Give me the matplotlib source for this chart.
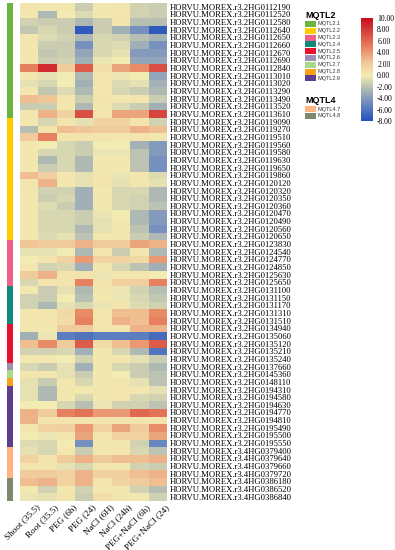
import numpy as np
import matplotlib
matplotlib.use("Agg")
import matplotlib.pyplot as plt
import matplotlib.transforms as mtransforms
from matplotlib.colors import LinearSegmentedColormap, Normalize
from matplotlib.patches import Rectangle

conditions = ["Shoot (35.5)", "Root (35.5)", "PEG (6h)", "PEG (24)", "NaCl (6H)",
              "NaCl (24h)", "PEG+NaCl (6h)", "PEG+NaCl (24)"]

gene_ids = ["2HG0112190", "2HG0112520", "2HG0112580", "2HG0112640", "2HG0112650",
            "2HG0112660", "2HG0112670", "2HG0112690", "2HG0112840", "2HG0113010",
            "2HG0113020", "2HG0113290", "2HG0113490", "2HG0113520", "2HG0113610",
            "2HG0119090", "2HG0119270", "2HG0119510", "2HG0119560", "2HG0119580",
            "2HG0119630", "2HG0119650", "2HG0119860", "2HG0120120", "2HG0120320",
            "2HG0120350", "2HG0120360", "2HG0120470", "2HG0120490", "2HG0120560",
            "2HG0120650", "2HG0123830", "2HG0124540", "2HG0124770", "2HG0124850",
            "2HG0125630", "2HG0125650", "2HG0131100", "2HG0131150", "2HG0131170",
            "2HG0131310", "2HG0131510", "2HG0134940", "2HG0135060", "2HG0135120",
            "2HG0135210", "2HG0135240", "2HG0137660", "2HG0145360", "2HG0148110",
            "2HG0194310", "2HG0194580", "2HG0194630", "2HG0194770", "2HG0194810",
            "2HG0195490", "2HG0195500", "2HG0195550", "4HG0379400", "4HG0379640",
            "4HG0379660", "4HG0379720", "4HG0386180", "4HG0386520", "4HG0386840"]
genes = ["HORVU.MOREX.r3." + g for g in gene_ids]

values = [
    [0.3, 0.2, 0.2, -1.5, 0.2, 0.3, -1.2, -1.5],
    [0.2, -2.5, 0.1, -0.8, 0.2, 0.3, -1.2, -1.5],
    [-1.2, -1.5, -1.5, -2.5, -1.5, 0.5, -2.2, -2.2],
    [-1.8, -1.0, -1.5, -7.5, -1.5, -3.0, -4.5, -7.5],
    [0.3, -0.8, -1.2, -2.5, -1.0, -1.2, -2.2, -2.8],
    [0.3, -1.5, -1.5, -4.5, -1.0, -0.8, -3.0, -4.5],
    [0.2, -1.8, -1.5, -3.5, -1.0, -0.5, -4.0, -4.0],
    [0.2, -1.5, -1.2, -3.0, -0.3, 0.0, -3.5, -3.5],
    [5.0, 8.5, 2.0, 6.5, 0.8, 3.5, 4.5, 7.0],
    [0.2, -0.5, 0.0, -2.5, 0.3, -0.3, 0.0, -3.5],
    [-0.5, -1.0, 0.0, -3.0, 0.3, -0.8, -0.5, -2.8],
    [0.2, -1.8, -0.8, -2.5, 0.3, -1.0, -1.5, -2.5],
    [2.5, 2.2, 0.3, -1.5, 0.5, 0.2, 0.3, -1.5],
    [-1.5, -1.5, 0.2, -2.5, 0.2, -0.8, -1.5, -3.0],
    [0.3, 3.0, 1.5, 7.0, 0.5, 3.5, 3.5, 7.5],
    [0.2, -1.0, 0.5, -0.5, 1.5, 1.5, 0.5, -1.2],
    [-2.2, 0.3, 2.5, 2.2, 2.0, 2.0, 3.0, 2.5],
    [2.0, 5.0, 0.5, 0.5, 0.5, 0.3, 0.5, 0.3],
    [0.2, 0.0, -1.0, -1.5, 0.0, 0.0, -2.8, -4.0],
    [0.2, -1.0, -1.0, -1.5, -0.3, -0.3, -2.0, -4.0],
    [0.2, -2.5, -1.0, -2.5, 0.2, 0.2, -2.0, -4.5],
    [0.2, -1.5, -1.0, -2.5, 0.2, 0.2, -2.0, -4.5],
    [2.5, 1.8, 0.3, -0.5, 0.3, -0.3, 0.3, -0.8],
    [0.3, 3.0, 0.3, -0.5, 0.5, -0.5, 0.3, -0.5],
    [0.2, -1.2, -1.2, -3.0, 0.2, -1.0, -1.0, -2.5],
    [0.2, -1.5, -1.0, -3.0, 0.2, -1.0, -1.2, -2.5],
    [0.2, -0.8, -1.5, -3.0, 0.2, -1.0, -1.2, -2.0],
    [0.2, -1.0, -1.0, -1.5, -0.3, 0.0, -2.5, -4.0],
    [0.2, -1.0, -1.0, -1.5, -0.5, 0.2, -2.5, -4.0],
    [0.2, -1.0, -1.0, -2.5, -0.5, 0.2, -2.0, -4.5],
    [0.2, -0.8, -0.5, -2.0, 0.2, 0.3, -1.5, -2.5],
    [2.2, 2.0, 2.0, 3.0, 2.0, 2.0, 3.5, 3.0],
    [-0.5, -0.5, 0.0, -2.5, 0.3, -1.5, 0.3, -2.5],
    [0.0, 0.5, 1.5, 4.0, 1.5, 1.5, 1.2, 4.0],
    [0.3, -1.2, -1.0, -3.0, 0.2, -1.0, -2.0, -3.0],
    [2.0, 3.0, 0.5, 0.5, -0.3, 0.3, 0.3, 0.0],
    [-1.0, 0.3, 0.5, 5.0, 0.5, 1.8, 1.8, 5.0],
    [0.2, -1.5, -0.5, -2.5, 0.3, -0.3, -1.2, -2.2],
    [-1.2, -1.5, 0.0, -2.2, 0.2, -0.3, -1.0, -1.8],
    [-1.2, -2.5, -0.5, -1.0, -0.3, 0.3, -0.8, -1.2],
    [0.3, 0.3, 1.2, 4.5, 0.3, 2.5, 2.5, 4.5],
    [0.3, 0.3, 1.0, 5.0, 0.3, 3.0, 2.5, 5.0],
    [0.2, 0.2, 2.0, 2.0, 0.5, 0.5, 3.0, 3.0],
    [-3.0, -0.3, -5.5, -6.0, -5.5, -5.5, -5.5, -6.5],
    [2.5, 4.5, 2.0, 6.5, 1.0, 2.5, 4.0, 6.5],
    [-1.2, -1.2, -1.0, -3.0, 0.2, -1.0, -2.5, -6.0],
    [0.2, 0.2, 0.0, -1.2, 0.2, 0.3, -0.5, -1.5],
    [-1.0, -1.5, -0.5, -3.0, 0.2, -1.0, -1.5, -2.5],
    [0.3, 0.3, -0.5, -1.5, 0.2, 0.0, -1.5, -2.0],
    [-0.5, -1.5, 0.2, -1.0, 0.2, 0.3, -0.5, -2.0],
    [-0.5, -2.5, 0.3, 0.2, 0.3, 0.3, 0.2, -0.5],
    [-0.5, -2.5, 0.2, -1.0, 0.2, 0.3, -1.0, -1.2],
    [0.0, 0.0, -1.0, -2.2, -0.3, -1.2, -1.2, -2.0],
    [3.0, 2.0, 5.0, 5.5, 4.0, 4.0, 6.0, 5.5],
    [3.0, 0.5, 0.5, 0.5, 0.5, 0.5, 0.5, 0.5],
    [0.3, 1.5, 1.8, 4.0, 1.5, 3.5, 2.0, 4.5],
    [0.0, -0.3, 0.3, 3.5, 0.3, 1.5, 1.5, 3.5],
    [-0.8, -1.0, 0.0, -4.5, 0.3, 0.2, -1.2, -5.0],
    [-0.5, -1.0, 0.2, -1.5, 0.2, 0.3, -1.0, -2.0],
    [1.5, 0.5, 2.0, 3.0, 2.0, 2.5, 2.5, 3.0],
    [0.3, 0.3, -0.5, -1.0, 0.3, 0.2, -1.2, -1.5],
    [2.0, 2.0, 1.5, 3.0, 1.5, 1.8, 2.5, 3.0],
    [2.5, 3.0, 1.5, 3.0, 0.5, 1.5, 2.0, 2.5],
    [0.2, -1.2, 0.2, -1.2, 0.2, 0.2, -1.2, -2.2],
    [-0.3, -0.5, 0.3, -1.5, 0.8, 0.3, 0.2, -1.2],
]

mqtl_names = ["MQTL2.1", "MQTL2.2", "MQTL2.3", "MQTL2.4", "MQTL2.5", "MQTL2.6",
              "MQTL2.7", "MQTL2.8", "MQTL2.9", "MQTL4.7", "MQTL4.8"]
mqtl_sizes = [15, 16, 6, 5, 5, 1, 1, 1, 8, 4, 3]
mqtl_colors = ["#6DB33F", "#FFCC00", "#EE5F8A", "#0E8A7D", "#E8112D", "#9A8FB5",
               "#A8D98A", "#F7A11A", "#5B3E8E", "#FFB482", "#7A8A6A"]

cbar_ticks = [10, 8, 6, 4, 2, 0, -2, -4, -6, -8]

vmin, vmax = -8, 10
nodes = [(-8, "#2450BA"), (-5, "#6A88C0"), (-2, "#BDC3B2"), (0, "#F3ECB2"),
         (2, "#F1CC9C"), (5, "#E7805E"), (10, "#C80A1E")]
cmap = LinearSegmentedColormap.from_list(
    "expr", [((v - vmin) / (vmax - vmin), c) for v, c in nodes])
norm = Normalize(vmin, vmax)

W, H = 395, 550
fig = plt.figure(figsize=(W / 100, H / 100), dpi=100)

def box(x0, y0, x1, y1):
    return [x0 / W, 1 - y1 / H, (x1 - x0) / W, (y1 - y0) / H]

serif = "Liberation Serif"

# heatmap
ax = fig.add_axes(box(20, 3, 167, 500.5))
data = np.array(values)
ax.imshow(data, cmap=cmap, norm=norm, aspect="auto", interpolation="nearest")
ax.set_yticks(range(len(genes)))
ax.set_yticklabels(genes, fontsize=6.25, family=serif)
ax.yaxis.tick_right()
ax.set_xticks(range(len(conditions)))
ax.set_xticklabels(conditions, fontsize=6.6, family=serif, rotation=45,
                   ha="right", rotation_mode="anchor")
ax.tick_params(length=0, pad=2)
shift = mtransforms.ScaledTranslation(7 / 100, 0, fig.dpi_scale_trans)
for lab in ax.get_xticklabels():
    lab.set_transform(lab.get_transform() + shift)
for s in ax.spines.values():
    s.set_visible(False)

# group bar
gax = fig.add_axes(box(7, 3, 13, 500.5))
start = 0
for n, c in zip(mqtl_sizes, mqtl_colors):
    gax.add_patch(Rectangle((0, start), 1, n, color=c, lw=0))
    start += n
gax.set_xlim(0, 1)
gax.set_ylim(len(genes), 0)
gax.axis("off")

# legend
fig.text(305 / W, 1 - 15 / H, "MQTL2", fontsize=6.5, weight="bold", va="center",
         family="Liberation Sans")
fig.text(305 / W, 1 - 100 / H, "MQTL4", fontsize=6.5, weight="bold", va="center",
         family="Liberation Sans")
for i, (name, c) in enumerate(zip(mqtl_names, mqtl_colors)):
    if i < 9:
        yc = 24 + i * 6.8
    else:
        yc = 109 + (i - 9) * 6.8
    fig.patches.append(Rectangle((305 / W, 1 - (yc + 3) / H), 11 / W, 6 / H,
                                 transform=fig.transFigure, color=c, lw=0))
    fig.text(318 / W, 1 - yc / H, name, fontsize=4, va="center",
             family="Liberation Sans", color="#333333")

# colorbar
cax = fig.add_axes(box(361, 18, 373, 121))
cb = fig.colorbar(plt.cm.ScalarMappable(norm=norm, cmap=cmap), cax=cax)
cb.outline.set_visible(False)
cb.set_ticks(cbar_ticks)
cb.set_ticklabels(["%.2f" % t for t in cbar_ticks])
cax.tick_params(length=0, labelsize=5.5, pad=3)
for lab in cax.get_yticklabels():
    lab.set_family(serif)

fig.savefig("out.png", dpi=100)
